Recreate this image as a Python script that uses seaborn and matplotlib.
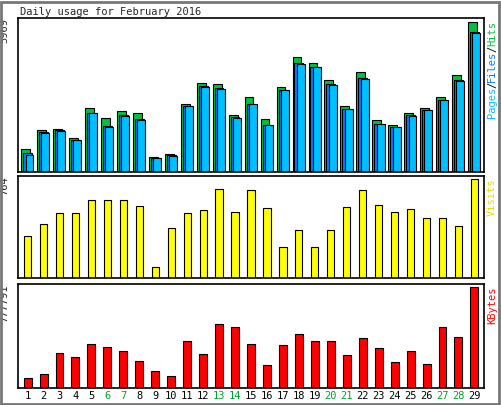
import matplotlib
matplotlib.use("Agg")
import matplotlib.pyplot as plt
import seaborn as sns
import pandas as pd
from matplotlib.patches import Rectangle

days = list(range(1, 30))
weekend = [6, 7, 13, 14, 20, 21, 27, 28]
hits = [906,1660,1729,1358,2552,2140,2429,2346,617,700,2730,3554,3512,2264,2977,2099,3389,4610,4363,3663,2634,3993,2058,1893,2346,2552,3005,3883,5969]
files = [741,1578,1660,1290,2346,1852,2264,2099,576,659,2634,3416,3334,2181,2730,1893,3293,4363,4198,3499,2511,3746,1935,1811,2264,2470,2881,3663,5598]
pages = [659,1565,1646,1276,2346,1811,2250,2058,562,650,2620,3402,3320,2167,2716,1893,3279,4322,4184,3485,2497,3732,1921,1797,2250,2456,2867,3650,5557]
visits = [324,415,498,498,598,598,598,556,83,382,498,523,689,507,681,540,241,374,241,374,548,681,565,507,531,465,465,399,764]
kbytes = [78590,105690,268290,241190,341460,314360,281840,208670,127370,94850,363140,260160,493220,468830,341460,176150,333330,414630,363140,363140,252030,387530,306230,200540,281840,186990,468830,395660,777791]

sns.set_style("white")
plt.rcParams['font.family'] = ['DejaVu Sans Mono']
W, H = 501, 405
fig = plt.figure(figsize=(W/100, H/100), dpi=100)
fig.patches.append(Rectangle((1/W, 1/H), 1-3/W, 1-3/H, transform=fig.transFigure,
                             fill=False, edgecolor='#777777', lw=2))

def ax_at(x0, y0, x1, y1):
    return fig.add_axes([x0/W, 1-y1/H, (x1-x0)/W, (y1-y0)/H])

FS = 7.5
GREEN, BLUE, CYAN = '#00c040', '#0080ff', '#00bfff'

def style(ax, vmax, label):
    ax.set_xlim(0.4, 29.6)
    ax.set_ylim(0, vmax*1.03)
    ax.set_xticks([]); ax.set_yticks([])
    for s in ax.spines.values():
        s.set_color('black'); s.set_linewidth(1.2)
    ax.set_xlabel(''); ax.set_ylabel('')
    ax.text(-0.03, 1.0, label, transform=ax.transAxes, rotation=90, ha='center', va='top', fontsize=FS)

# top panel
ax1 = ax_at(18, 18, 484, 172)
df = pd.DataFrame({'day': days, 'hits': hits, 'files': files, 'pages': pages})
xs = df['day']
ax1.bar(xs-0.12, df['hits'], width=0.55, color=GREEN, edgecolor='black', lw=0.8)
ax1.bar(xs, df['files'], width=0.55, color=BLUE, edgecolor='black', lw=0.8)
ax1.bar(xs+0.12, df['pages'], width=0.5, color=CYAN, edgecolor='black', lw=0.8)
style(ax1, 5969, '5969')

# visits
ax2 = ax_at(18, 176, 484, 278)
ax2.bar(days, visits, width=0.45, color='#ffff00', edgecolor='black', lw=0.8)
style(ax2, 764, '764')

# kbytes
ax3 = ax_at(18, 284, 484, 388)
ax3.bar(days, kbytes, width=0.5, color='#ff0000', edgecolor='black', lw=0.8)
style(ax3, 777791, '777791')
for d in days:
    ax3.text(d, -0.03, str(d), transform=ax3.get_xaxis_transform(), ha='center', va='top',
             fontsize=FS, color='#00a030' if d in weekend else 'black')

fig.text(20/W, 1-12/H, 'Daily usage for February 2016', fontsize=FS, va='center', ha='left')

def right_label(parts, top_px):
    total = sum(len(p) for p, _ in parts)
    ch = 6.0
    y = top_px + total*ch
    for p, c in parts:
        fig.text(492/W, 1-y/H, p, rotation=90, ha='center', va='bottom', fontsize=FS, color=c)
        y -= len(p)*ch

right_label([('Pages', CYAN), ('/', 'black'), ('Files', BLUE), ('/', 'black'), ('Hits', GREEN)], 22)
right_label([('Visits', '#e0e000')], 180)
right_label([('KBytes', '#ff0000')], 288)

fig.savefig('out.png', dpi=100)
